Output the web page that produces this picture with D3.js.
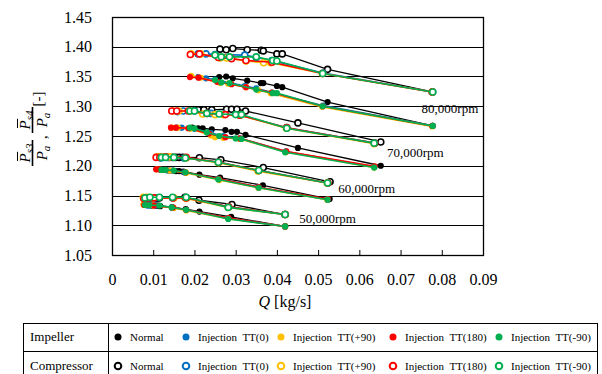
<!DOCTYPE html>
<html><head><meta charset="utf-8">
<script src="https://cdn.jsdelivr.net/npm/d3@7"></script>
<style>
body{margin:0;background:#fff}
svg{display:block}
svg text{font-family:"Times New Roman","Liberation Serif","DejaVu Serif",serif !important;fill:#000}
</style>
</head><body>
<svg id="c" width="602" height="374"></svg>
<script>
// ---------- data ----------
const xTicks = [0, 0.01, 0.02, 0.03, 0.04, 0.05, 0.06, 0.07, 0.08, 0.09];
const xTickLabels = ["0", "0.01", "0.02", "0.03", "0.04", "0.05", "0.06", "0.07", "0.08", "0.09"];
const yTicks = [1.05, 1.10, 1.15, 1.20, 1.25, 1.30, 1.35, 1.40, 1.45];
const yTickLabels = ["1.05", "1.10", "1.15", "1.20", "1.25", "1.30", "1.35", "1.40", "1.45"];

const seriesNames = ["Normal", "Injection  TT(0)", "Injection  TT(+90)", "Injection  TT(180)", "Injection  TT(-90)"];
const groupNames = ["Impeller", "Compressor"];

const speedLabels = ["80,000rpm", "70,000rpm", "60,000rpm", "50,000rpm"];
const speedLabelQ = [0.0751, 0.0667, 0.0549, 0.0454];
const speedLabelP = [1.2887, 1.2147, 1.1542, 1.1043];

// each series: one segment per speed (80k, 70k, 60k, 50k), points [Q, P/Pa]
const impNormal = [
  [[0.0260,1.349],[0.0277,1.350],[0.0293,1.347],[0.0328,1.343],[0.0361,1.339],[0.0367,1.339],[0.0400,1.334],[0.0413,1.332],[0.0523,1.307],[0.0778,1.267]],
  [[0.0195,1.264],[0.0209,1.263],[0.0220,1.263],[0.0242,1.261],[0.0275,1.260],[0.0290,1.257],[0.0303,1.257],[0.0324,1.252],[0.0451,1.230],[0.0652,1.200]],
  [[0.0139,1.192],[0.0147,1.192],[0.0155,1.191],[0.0163,1.191],[0.0173,1.190],[0.0212,1.185],[0.0262,1.180],[0.0366,1.167],[0.0528,1.144]],
  [[0.0096,1.133],[0.0102,1.133],[0.0107,1.133],[0.0112,1.133],[0.0117,1.132],[0.0145,1.130],[0.0179,1.127],[0.0212,1.123],[0.0289,1.114],[0.0420,1.098]]
];
const impTT0 = [
  [[0.0209,1.349],[0.0228,1.347],[0.0250,1.345],[0.0322,1.334],[0.0350,1.330],[0.0388,1.323],[0.0512,1.301],[0.0778,1.267]],
  [[0.0157,1.264],[0.0169,1.264],[0.0200,1.262],[0.0240,1.255],[0.0270,1.250],[0.0310,1.246],[0.0422,1.224],[0.0637,1.198]],
  [[0.0118,1.193],[0.0125,1.193],[0.0135,1.192],[0.0175,1.189],[0.0258,1.178],[0.0355,1.164],[0.0523,1.143]],
  [[0.0086,1.133],[0.0092,1.133],[0.0105,1.133],[0.0147,1.130],[0.0180,1.126],[0.0282,1.112],[0.0420,1.098]]
];
const impTT90 = [
  [[0.0192,1.351],[0.0215,1.348],[0.0262,1.339],[0.0282,1.338],[0.0325,1.332],[0.0355,1.327],[0.0385,1.322],[0.0510,1.299],[0.0777,1.266]],
  [[0.0145,1.264],[0.0160,1.264],[0.0190,1.262],[0.0240,1.251],[0.0250,1.248],[0.0270,1.247],[0.0310,1.245],[0.0422,1.223],[0.0636,1.197]],
  [[0.0109,1.194],[0.0120,1.193],[0.0140,1.192],[0.0180,1.188],[0.0260,1.176],[0.0355,1.163],[0.0522,1.143]],
  [[0.0076,1.135],[0.0085,1.134],[0.0100,1.133],[0.0150,1.129],[0.0180,1.125],[0.0282,1.111],[0.0420,1.098]]
];
const impTT180 = [
  [[0.0189,1.349],[0.0210,1.348],[0.0255,1.341],[0.0290,1.337],[0.0325,1.332],[0.0388,1.323],[0.0511,1.300],[0.0777,1.267]],
  [[0.0143,1.264],[0.0155,1.264],[0.0185,1.263],[0.0235,1.254],[0.0275,1.248],[0.0310,1.246],[0.0423,1.224],[0.0637,1.199]],
  [[0.0107,1.194],[0.0115,1.194],[0.0130,1.193],[0.0178,1.189],[0.0259,1.178],[0.0356,1.164],[0.0524,1.144]],
  [[0.0078,1.134],[0.0088,1.134],[0.0102,1.133],[0.0148,1.130],[0.0180,1.126],[0.0283,1.112],[0.0420,1.098]]
];
const impTTm90 = [
  [[0.0250,1.344],[0.0265,1.340],[0.0285,1.339],[0.0350,1.328],[0.0390,1.322],[0.0400,1.322],[0.0511,1.300],[0.0778,1.267]],
  [[0.0189,1.264],[0.0200,1.263],[0.0230,1.256],[0.0260,1.250],[0.0300,1.246],[0.0314,1.245],[0.0420,1.2226],[0.0636,1.197]],
  [[0.0120,1.193],[0.0130,1.193],[0.0150,1.192],[0.0178,1.189],[0.0258,1.177],[0.0356,1.163],[0.0523,1.143]],
  [[0.0080,1.134],[0.0090,1.134],[0.0115,1.133],[0.0145,1.130],[0.0180,1.126],[0.0282,1.1105],[0.0420,1.098]]
];

const cmpNormal = [
  [[0.0262,1.396],[0.0277,1.395],[0.0293,1.397],[0.0328,1.395],[0.0362,1.394],[0.0367,1.393],[0.0400,1.388],[0.0413,1.388],[0.0523,1.362],[0.0777,1.324]],
  [[0.0195,1.294],[0.0209,1.294],[0.0223,1.294],[0.0242,1.294],[0.0278,1.295],[0.0290,1.295],[0.0303,1.295],[0.0324,1.292],[0.0451,1.272],[0.0652,1.240]],
  [[0.0139,1.214],[0.0147,1.214],[0.0155,1.214],[0.0163,1.214],[0.0172,1.214],[0.0212,1.2135],[0.0264,1.210],[0.0367,1.197],[0.0529,1.173]],
  [[0.0096,1.145],[0.0107,1.145],[0.0115,1.146],[0.0177,1.147],[0.0211,1.142],[0.0291,1.135],[0.0420,1.118]]
];
const cmpTT0 = [
  [[0.0209,1.388],[0.0228,1.388],[0.0250,1.387],[0.0322,1.386],[0.0350,1.382],[0.0388,1.377],[0.0512,1.356],[0.0778,1.324]],
  [[0.0159,1.291],[0.0173,1.292],[0.0200,1.292],[0.0240,1.288],[0.0270,1.287],[0.0310,1.285],[0.0424,1.264],[0.0637,1.238]],
  [[0.0118,1.213],[0.0125,1.214],[0.0135,1.214],[0.0175,1.213],[0.0258,1.206],[0.0355,1.192],[0.0523,1.171]],
  [[0.0084,1.145],[0.0092,1.146],[0.0105,1.146],[0.0147,1.146],[0.0180,1.146],[0.0282,1.131],[0.0420,1.118]]
];
const cmpTT90 = [
  [[0.0192,1.388],[0.0215,1.388],[0.0262,1.381],[0.0278,1.381],[0.0325,1.376],[0.0368,1.373],[0.0385,1.373],[0.0510,1.355],[0.0777,1.324]],
  [[0.0148,1.292],[0.0162,1.292],[0.0190,1.292],[0.0220,1.287],[0.0250,1.286],[0.0270,1.286],[0.0310,1.285],[0.0423,1.263],[0.0636,1.237]],
  [[0.0110,1.215],[0.0120,1.215],[0.0140,1.215],[0.0180,1.213],[0.0258,1.205],[0.0354,1.191],[0.0522,1.171]],
  [[0.0076,1.147],[0.0085,1.147],[0.0100,1.146],[0.0150,1.146],[0.0180,1.145],[0.0282,1.130],[0.0420,1.118]]
];
const cmpTT180 = [
  [[0.0190,1.387],[0.0212,1.388],[0.0258,1.382],[0.0290,1.380],[0.0325,1.377],[0.0388,1.374],[0.0511,1.355],[0.0777,1.324]],
  [[0.0145,1.292],[0.0157,1.292],[0.0185,1.292],[0.0230,1.288],[0.0275,1.286],[0.0310,1.285],[0.0424,1.264],[0.0637,1.238]],
  [[0.0107,1.214],[0.0116,1.214],[0.0130,1.215],[0.0180,1.214],[0.0259,1.206],[0.0356,1.192],[0.0524,1.171]],
  [[0.0077,1.145],[0.0088,1.146],[0.0102,1.146],[0.0148,1.146],[0.0180,1.146],[0.0283,1.131],[0.0420,1.118]]
];
const cmpTTm90 = [
  [[0.0250,1.386],[0.0265,1.383],[0.0285,1.383],[0.0350,1.383],[0.0390,1.377],[0.0400,1.376],[0.0511,1.355],[0.0778,1.324]],
  [[0.0189,1.292],[0.0200,1.292],[0.0230,1.288],[0.0260,1.287],[0.0300,1.286],[0.0314,1.286],[0.0424,1.263],[0.0636,1.238]],
  [[0.0120,1.214],[0.0130,1.214],[0.0150,1.214],[0.0178,1.213],[0.0258,1.206],[0.0356,1.192],[0.0523,1.171]],
  [[0.0080,1.146],[0.0092,1.147],[0.0115,1.147],[0.0147,1.147],[0.0180,1.147],[0.0282,1.130],[0.0420,1.118]]
];

// ---------- styles ----------
const FONT = '"Times New Roman","Liberation Serif","DejaVu Serif",serif';
const colors = ["#000000", "#0070C0", "#FFC000", "#FF0000", "#00B050"];
const impSeries = [impNormal, impTT0, impTT90, impTT180, impTTm90];
const cmpSeries = [cmpNormal, cmpTT0, cmpTT90, cmpTT180, cmpTTm90];

const M = {left: 112, top: 17, right: 483, bottom: 255};
const svg = d3.select("#c");
const x = d3.scaleLinear().domain([0, 0.09]).range([M.left, M.right]);
const y = d3.scaleLinear().domain([1.05, 1.45]).range([M.bottom, M.top]);

// gridlines
svg.append("g").selectAll("line").data(yTicks.slice(1, -1)).join("line")
  .attr("x1", M.left).attr("x2", M.right)
  .attr("y1", d => Math.round(y(d)) + 0.5).attr("y2", d => Math.round(y(d)) + 0.5)
  .attr("stroke", "#000").attr("stroke-width", 1);

// x axis
const xa = svg.append("g").attr("transform", `translate(0,${M.bottom})`)
  .call(d3.axisBottom(x).tickValues(xTicks).tickFormat((d, i) => xTickLabels[i])
    .tickSizeInner(-5).tickSizeOuter(0).tickPadding(19));
xa.attr("font-family", FONT).attr("font-size", 16);
xa.select(".domain").remove();
xa.selectAll("text").attr("font-size", 16).attr("font-family", FONT);
xa.selectAll("line").attr("stroke", "#000");

// y axis
const ya = svg.append("g").attr("transform", `translate(${M.left},0)`)
  .call(d3.axisLeft(y).tickValues(yTicks).tickFormat((d, i) => yTickLabels[i])
    .tickSize(0).tickPadding(20));
ya.attr("font-family", FONT).attr("font-size", 16);
ya.select(".domain").remove();
ya.selectAll("text").attr("font-size", 16).attr("font-family", FONT);

// frame
svg.append("rect").attr("x", M.left + 0.5).attr("y", M.top + 0.5)
  .attr("width", M.right - M.left).attr("height", M.bottom - M.top)
  .attr("fill", "none").attr("stroke", "#000").attr("stroke-width", 1.3);

// series
const line = d3.line().x(d => x(d[0])).y(d => y(d[1]));
function drawGroup(series, open) {
  const g = svg.append("g");
  series.forEach((segs, si) => {
    const col = colors[si];
    segs.forEach(seg => {
      g.append("path").datum(seg).attr("d", line).attr("fill", "none")
        .attr("stroke", col).attr("stroke-width", si === 0 ? 1.3 : 1.6);
    });
    segs.forEach(seg => {
      g.append("g").selectAll("circle").data(seg).join("circle")
        .attr("cx", d => x(d[0])).attr("cy", d => y(d[1]))
        .attr("r", open ? 3 : 3.1)
        .attr("fill", open ? "#fff" : col)
        .attr("stroke", open ? col : "none")
        .attr("stroke-width", open ? 1.6 : 0);
    });
  });
}
drawGroup(impSeries, false);
drawGroup(cmpSeries, true);

// speed labels
svg.append("g").selectAll("text").data(speedLabels).join("text")
  .attr("x", (d, i) => x(speedLabelQ[i])).attr("y", (d, i) => y(speedLabelP[i]))
  .attr("font-size", 13).attr("font-family", FONT).text(d => d);

// x title
const xt = svg.append("text").attr("x", 285).attr("y", 307).attr("text-anchor", "middle")
  .attr("font-size", 16).attr("font-family", FONT);
xt.append("tspan").attr("font-style", "italic").text("Q");
xt.append("tspan").text(" [kg/s]");

// y title (stacked fractions, rotated)
function fraction(cy, sub) {
  const g = svg.append("g").attr("transform", `translate(32.5,${cy}) rotate(-90)`);
  g.append("line").attr("x1", -13).attr("x2", 13).attr("y1", 0).attr("y2", 0)
    .attr("stroke", "#000").attr("stroke-width", 1.6);
  const num = g.append("text").attr("x", 0).attr("y", -3).attr("text-anchor", "middle").attr("font-family", FONT);
  num.append("tspan").attr("font-style", "italic").attr("font-size", 15).text("P");
  num.append("tspan").attr("font-style", "italic").attr("font-size", 11).attr("dy", 3).text(sub);
  const pEnd = num.node().getEndPositionOfChar(0).x;
  const pStart = num.node().getStartPositionOfChar(0).x;
  g.append("line").attr("x1", pStart + 1.5).attr("x2", pEnd + 1.5).attr("y1", -15).attr("y2", -15)
    .attr("stroke", "#000").attr("stroke-width", 1);
  const den = g.append("text").attr("x", 0).attr("y", 14).attr("text-anchor", "middle").attr("font-family", FONT);
  den.append("tspan").attr("font-style", "italic").attr("font-size", 15).text("P");
  den.append("tspan").attr("font-style", "italic").attr("font-size", 11).attr("dy", 3).text("a");
  return g;
}
fraction(153, "s3");
fraction(120, "s4");
svg.append("text").attr("transform", "translate(47,137) rotate(-90)").attr("text-anchor", "middle")
  .attr("font-size", 15).attr("font-family", FONT).text(",");
svg.append("text").attr("transform", "translate(43,99) rotate(-90)").attr("text-anchor", "middle")
  .attr("font-size", 15).attr("font-family", FONT).text("[-]");

// legend table
const L = {left: 23.5, right: 597.5, top: 323.5, mid: 351.5, bottom: 382, div: 108.5};
const lg = svg.append("g").attr("stroke", "#000").attr("stroke-width", 1);
lg.append("rect").attr("x", L.left).attr("y", L.top).attr("width", L.right - L.left).attr("height", L.bottom - L.top).attr("fill", "none");
lg.append("line").attr("x1", L.left).attr("x2", L.right).attr("y1", L.mid).attr("y2", L.mid);
lg.append("line").attr("x1", L.div).attr("x2", L.div).attr("y1", L.top).attr("y2", L.bottom);

const rowY = [337, 366];
groupNames.forEach((gname, r) => {
  svg.append("text").attr("x", 30).attr("y", rowY[r] + 4).attr("font-size", 13).attr("font-family", FONT).text(gname);
});
const itemX = [118, 186, 281, 393, 499];
seriesNames.forEach((name, i) => {
  [0, 1].forEach(r => {
    const open = r === 1;
    svg.append("circle").attr("cx", itemX[i]).attr("cy", rowY[r])
      .attr("r", open ? 3.3 : 3.5)
      .attr("fill", open ? "#fff" : colors[i])
      .attr("stroke", open ? colors[i] : "none").attr("stroke-width", open ? 2 : 0);
    svg.append("text").attr("x", itemX[i] + 12).attr("y", rowY[r] + 4)
      .attr("font-size", 11).attr("font-family", FONT).style("white-space", "pre").text(name);
  });
});
</script>
</body></html>
